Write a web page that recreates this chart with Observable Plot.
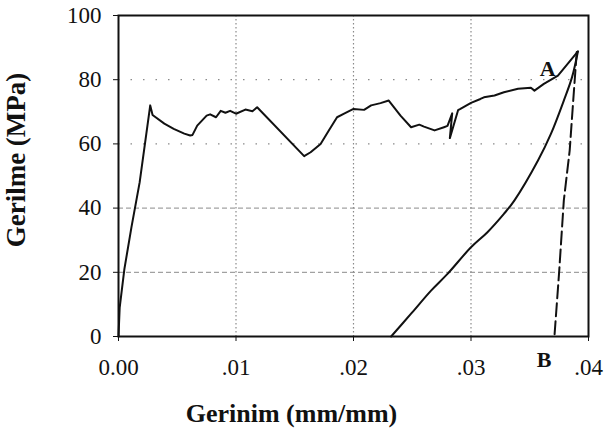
<!DOCTYPE html>
<html><head><meta charset="utf-8">
<script src="https://cdn.jsdelivr.net/npm/d3@7"></script>
<script src="https://cdn.jsdelivr.net/npm/@observablehq/plot@0.6"></script>
<style>body{margin:0;background:#fff}</style>
</head><body><div id="chart"></div>
<script>
// Loading curve (strain mm/mm, stress MPa)
const loadStrain = [0,0.0001,0.0005,0.0011,0.0018,0.0027,0.0029,0.0039,0.0047,0.0056,0.0061,0.0063,0.0067,0.0075,0.0078,0.0083,0.0087,0.0091,0.0095,0.0100,0.0108,0.0114,0.0118,0.0158,0.01635,0.0172,0.0179,0.0186,0.0192,0.0200,0.0209,0.0215,0.0223,0.0230,0.0240,0.0249,0.0256,0.0260,0.0269,0.0277,0.0280,0.0284,0.0282,0.0289,0.0291,0.0300,0.0308,0.0311,0.0320,0.0328,0.0340,0.0351,0.0354,0.0362,0.0374,0.0391];
const loadStress = [0,9,21,34,48,72,69,66.3,64.7,63.2,62.6,62.8,65.7,68.8,69.2,68.3,70.3,69.7,70.3,69.4,70.7,70.2,71.4,56.2,57.4,60,64.2,68.3,69.4,70.9,70.6,72.0,72.7,73.5,68.8,65.2,66.0,65.4,64.2,65.2,65.6,69.5,61.8,70.5,70.9,72.8,74.0,74.5,75.1,76.1,77.2,77.5,76.6,78.7,81.3,88.8];
// Unloading curve
const unloadStrain = [0.0391,0.0386,0.0379,0.0368,0.0357,0.0337,0.0328,0.0314,0.0300,0.0280,0.0266,0.0249,0.0232];
const unloadStress = [88.8,80.8,73.5,63.1,54.8,42.4,38.2,32.5,27.8,19.5,14.3,7.1,0];
// Dashed elastic unloading line A-B
const dashStrain = [0.0390,0.0387,0.0384,0.0379,0.0375,0.0371];
const dashStress = [88.6,73.5,58,42.4,20,0];
// Ticks
const xTicks = [0,0.01,0.02,0.03,0.04];
const xTickLabels = ["0.00",".01",".02",".03",".04"];
const yTicks = [0,20,40,60,80,100];
// Annotations
const noteLabels = ["A","B"];
const noteStrain = [0.03652,0.03623];
const noteStress = [83.4,-7.3];

const xLab = new Map(xTicks.map((d,i)=>[d,xTickLabels[i]]));
const pts = (xs,ys)=>xs.map((x,i)=>({x,y:ys[i]}));
const ink = "#111";
const plot = Plot.plot({
  width: 606, height: 437,
  marginLeft: 118, marginRight: 18, marginTop: 15, marginBottom: 101,
  style: {fontFamily: "Liberation Serif", background: "#fff", color: ink},
  x: {domain: [0,0.04]},
  y: {domain: [0,100]},
  marks: [
    Plot.ruleY([20,40], {stroke:"#8a8a8a", strokeWidth:1, strokeDasharray:"5,3"}),
    Plot.ruleY([60,80], {stroke:"#8a8a8a", strokeWidth:1.2, strokeDasharray:"1.5,11"}),
    Plot.ruleX([0.01,0.02,0.03], {stroke:"#8a8a8a", strokeWidth:1.2, strokeDasharray:"1.5,2.5"}),
    Plot.axisY({ticks: yTicks, tickSize: 5, tickPadding: 12, fontSize: 23, label: null, stroke: ink, fill: ink}),
    Plot.axisX({ticks: xTicks, tickSize: 5, tickPadding: 17, fontSize: 23, label: null, tickFormat: d=>xLab.get(d), stroke: ink, fill: ink}),
    Plot.frame({stroke: ink, strokeWidth: 2}),
    Plot.line(pts(loadStrain,loadStress), {x:"x", y:"y", stroke: ink, strokeWidth: 2, curve:"linear"}),
    Plot.line(pts(unloadStrain,unloadStress), {x:"x", y:"y", stroke: ink, strokeWidth: 2, curve:"catmull-rom"}),
    Plot.line(pts(dashStrain,dashStress), {x:"x", y:"y", stroke: ink, strokeWidth: 2, strokeDasharray:"13,5"}),
    Plot.text(noteLabels.map((t,i)=>({t,x:noteStrain[i],y:noteStress[i]})), {x:"x", y:"y", text:"t", fontSize: 22, fontWeight:"bold", fill: ink}),
    Plot.text(["Gerinim (mm/mm)"], {frameAnchor:"bottom", dx:-62, dy:85, fontSize:26, fontWeight:"bold", fill: ink}),
    Plot.text(["Gerilme (MPa)"], {frameAnchor:"left", textAnchor:"middle", rotate:-90, fontSize:27, fontWeight:"bold", fill: ink})
  ]
});
// place the rotated y-axis title explicitly to the left of the axis
d3.select(plot).selectAll("text").filter(function(){return this.textContent==="Gerilme (MPa)";})
  .each(function(){
    const t = d3.select(this);
    t.attr("x", null).attr("y", null).attr("text-anchor", "middle").attr("transform", "translate(25,160) rotate(-90)");
    d3.select(this.parentNode).attr("transform", null).attr("text-anchor", "middle");
  });
document.getElementById("chart").append(plot);
</script>
</body></html>
